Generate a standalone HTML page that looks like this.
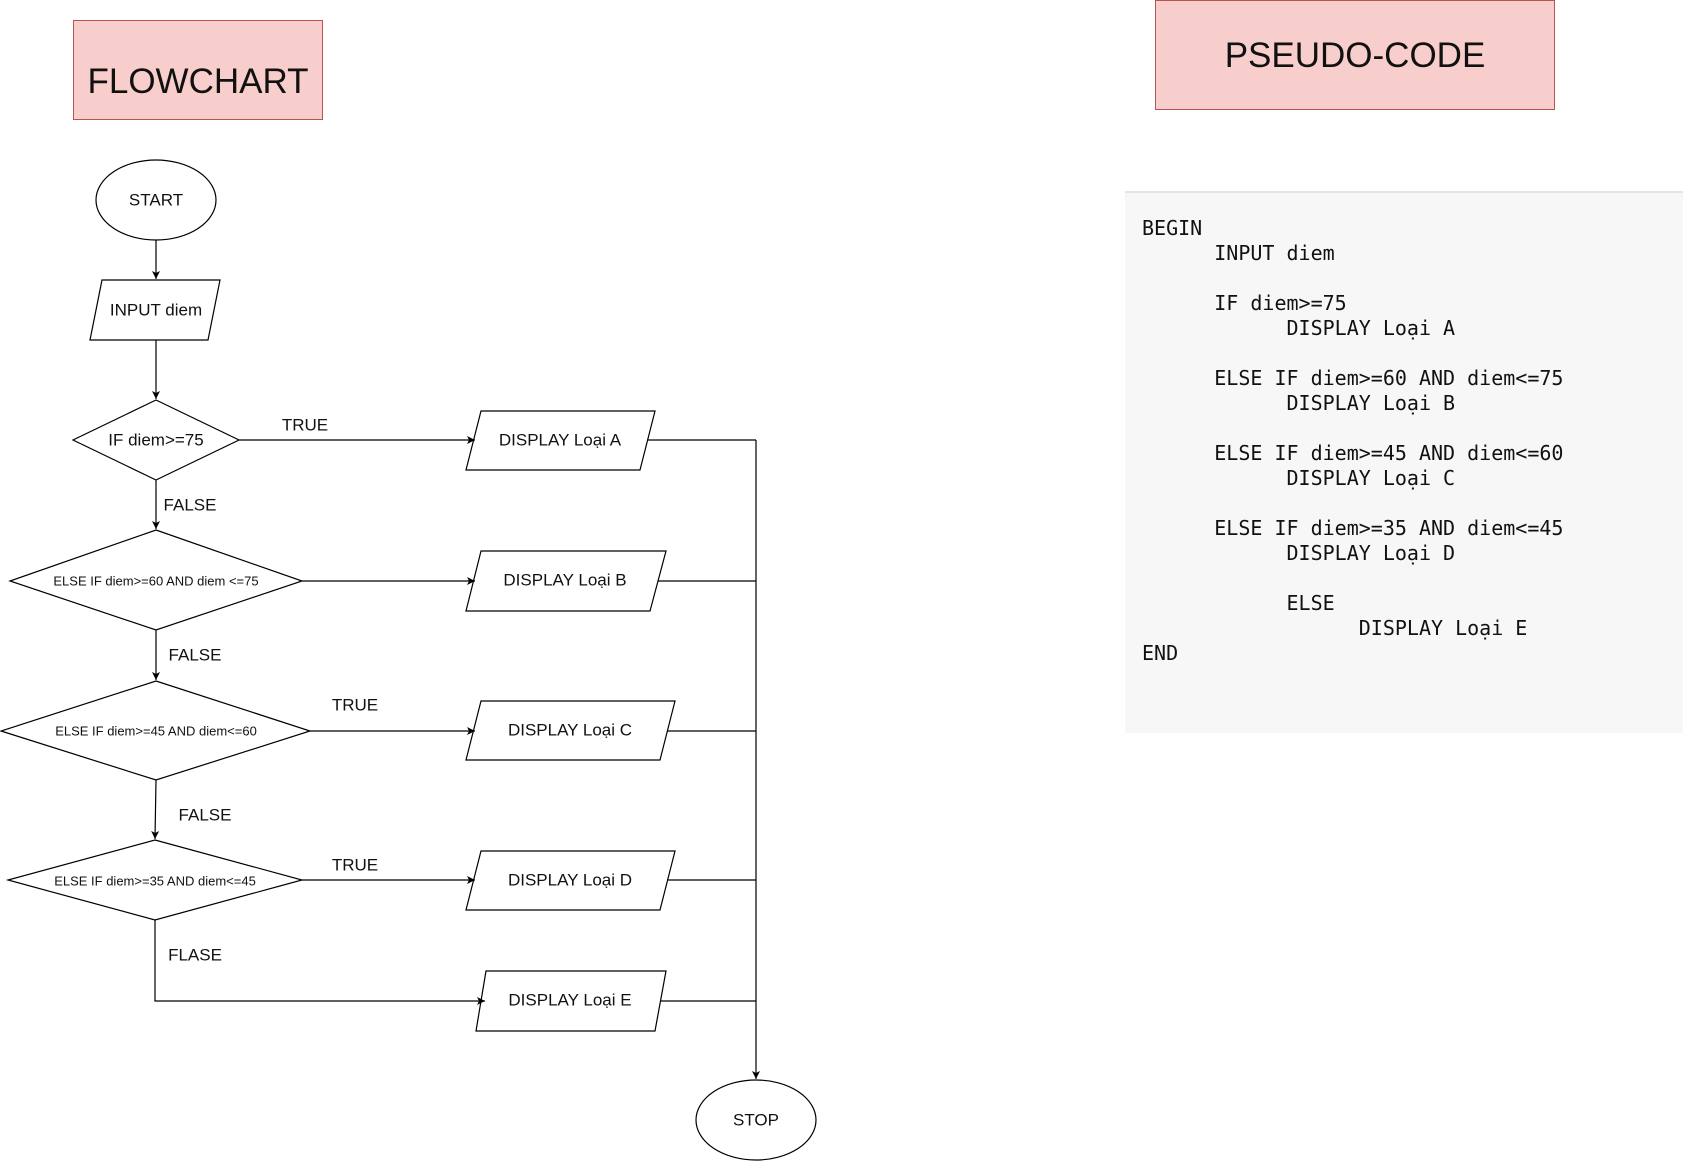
<!DOCTYPE html>
<html><head><meta charset="utf-8"><style>
html,body{margin:0;padding:0;background:#fff;width:1683px;height:1161px;overflow:hidden;position:relative}
.box{position:absolute;background:#f8cecc;border:1px solid #b85450;box-sizing:border-box;display:flex;align-items:center;justify-content:center;font-family:"Liberation Sans",sans-serif;color:#111}
.code{position:absolute;left:1125px;top:191px;width:558px;height:542px;background:#f7f7f7;border-top:2px solid #e3e6e8;box-sizing:border-box}
pre{position:absolute;left:1142px;top:216px;margin:0;font-family:"DejaVu Sans Mono","Liberation Mono",monospace;font-size:20px;line-height:25px;color:#111}
</style></head><body>
<div class="box" style="left:73px;top:20px;width:250px;height:100px;font-size:35px;padding-top:24px">FLOWCHART</div>
<div class="box" style="left:1155px;top:0;width:400px;height:110px;font-size:35px;padding-top:2px">PSEUDO-CODE</div>
<div class="code"></div>
<pre>BEGIN
      INPUT diem

      IF diem&gt;=75
            DISPLAY Loại A

      ELSE IF diem&gt;=60 AND diem&lt;=75
            DISPLAY Loại B

      ELSE IF diem&gt;=45 AND diem&lt;=60
            DISPLAY Loại C

      ELSE IF diem&gt;=35 AND diem&lt;=45
            DISPLAY Loại D

            ELSE
                  DISPLAY Loại E
END</pre>
<svg width="1683" height="1161" style="position:absolute;left:0;top:0" font-family="Liberation Sans, sans-serif" fill="none" stroke="#000" stroke-width="1.2">
<defs><marker id="a" markerWidth="10" markerHeight="10" refX="8" refY="4" orient="auto" markerUnits="userSpaceOnUse"><path d="M0,0 L8,4 L0,8 L2,4 Z" fill="#000" stroke="none"/></marker></defs>
<ellipse cx="156" cy="200" rx="60" ry="40"/>
<line x1="156" y1="240" x2="156" y2="279" marker-end="url(#a)"/>
<polygon points="102,280 220,280 208,340 90,340"/>
<line x1="156" y1="340" x2="156" y2="399" marker-end="url(#a)"/>
<polygon points="156,400 239,440 156,480 73,440"/>
<line x1="239" y1="440" x2="475" y2="440" marker-end="url(#a)"/>
<polygon points="481,411 655,411 640,470 466,470"/>
<line x1="647" y1="440" x2="756" y2="440"/>
<line x1="756" y1="440" x2="756" y2="1079" marker-end="url(#a)"/>
<line x1="156" y1="480" x2="156" y2="529" marker-end="url(#a)"/>
<polygon points="156,530 302,581 156,630 10,581"/>
<line x1="302" y1="581" x2="475" y2="581" marker-end="url(#a)"/>
<polygon points="481,551 666,551 650,611 466,611"/>
<line x1="658" y1="581" x2="756" y2="581"/>
<line x1="156" y1="630" x2="156" y2="680" marker-end="url(#a)"/>
<polygon points="156,681 310,731 156,780 1,731"/>
<line x1="310" y1="731" x2="475" y2="731" marker-end="url(#a)"/>
<polygon points="481,701 675,701 660,760 466,760"/>
<line x1="667" y1="731" x2="756" y2="731"/>
<line x1="156" y1="780" x2="155" y2="839" marker-end="url(#a)"/>
<polygon points="155,840 302,880 155,920 8,880"/>
<line x1="302" y1="880" x2="475" y2="880" marker-end="url(#a)"/>
<polygon points="481,851 675,851 660,910 466,910"/>
<line x1="667" y1="880" x2="756" y2="880"/>
<polyline points="155,920 155,1001 485,1001" marker-end="url(#a)"/>
<polygon points="486,971 666,971 655,1031 476,1031"/>
<line x1="660" y1="1001" x2="756" y2="1001"/>
<ellipse cx="756" cy="1120" rx="60" ry="40"/>
<g fill="#111" stroke="none" font-size="17" text-anchor="middle" dominant-baseline="central">
<text x="156" y="200">START</text>
<text x="156" y="310">INPUT diem</text>
<text x="156" y="440">IF diem&gt;=75</text>
<text x="560" y="440">DISPLAY Loại A</text>
<text x="565" y="580">DISPLAY Loại B</text>
<text x="570" y="730">DISPLAY Loại C</text>
<text x="570" y="880">DISPLAY Loại D</text>
<text x="570" y="1000">DISPLAY Loại E</text>
<text x="756" y="1120">STOP</text>
<text x="305" y="425">TRUE</text>
<text x="190" y="505">FALSE</text>
<text x="195" y="655">FALSE</text>
<text x="355" y="705">TRUE</text>
<text x="205" y="815">FALSE</text>
<text x="355" y="865">TRUE</text>
<text x="195" y="955">FLASE</text>
<g font-size="13">
<text x="156" y="581">ELSE IF diem&gt;=60 AND diem &lt;=75</text>
<text x="156" y="731">ELSE IF diem&gt;=45 AND diem&lt;=60</text>
<text x="155" y="881">ELSE IF diem&gt;=35 AND diem&lt;=45</text>
</g></g>
</svg>
</body></html>
